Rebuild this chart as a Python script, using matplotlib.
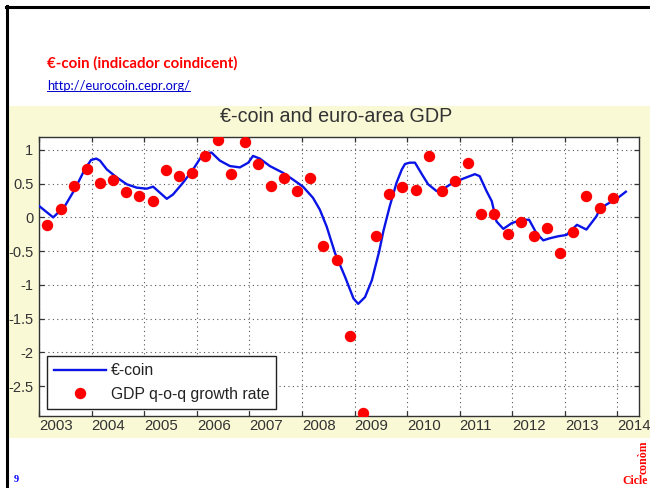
import numpy as np
import matplotlib
matplotlib.use("Agg")
import matplotlib.pyplot as plt
from matplotlib.patches import Rectangle
from matplotlib.lines import Line2D

# ---------------- data ----------------
gdp_years = np.repeat(np.arange(2003, 2014), 4)
gdp_quarter = np.tile([1, 2, 3, 4], 11)
gdp_values = [-0.11, 0.12, 0.46, 0.72,
              0.51, 0.55, 0.38, 0.31,
              0.24, 0.70, 0.62, 0.66,
              0.91, 1.14, 0.64, 1.11,
              0.79, 0.46, 0.58, 0.39,
              0.58, -0.42, -0.63, -1.76,
              -2.90, -0.28, 0.35, 0.45,
              0.41, 0.91, 0.39, 0.54,
              0.80, 0.05, 0.05, -0.24,
              -0.07, -0.28, -0.16, -0.53,
              -0.22, 0.31, 0.14, 0.28]

coin_dates = [2003.00, 2003.27, 2003.49, 2003.68, 2003.87, 2003.99, 2004.09, 2004.16,
              2004.29, 2004.48, 2004.67, 2004.86, 2005.05, 2005.17, 2005.30, 2005.43,
              2005.55, 2005.74, 2005.93, 2006.12, 2006.28, 2006.44, 2006.63, 2006.82,
              2006.98, 2007.07, 2007.20, 2007.39, 2007.64, 2007.83, 2008.02, 2008.21,
              2008.34, 2008.47, 2008.63, 2008.82, 2008.98, 2009.07, 2009.20, 2009.33,
              2009.47, 2009.55, 2009.67, 2009.80, 2009.90, 2009.96, 2010.05, 2010.15,
              2010.28, 2010.40, 2010.56, 2010.66, 2010.88, 2011.07, 2011.29, 2011.38,
              2011.51, 2011.61, 2011.70, 2011.83, 2011.99, 2012.18, 2012.32, 2012.46,
              2012.59, 2012.71, 2012.87, 2013.03, 2013.23, 2013.41, 2013.60, 2013.66,
              2013.79, 2014.01, 2014.16]
coin_values = [0.17, 0.00, 0.165, 0.415, 0.71, 0.85, 0.87, 0.84,
               0.71, 0.59, 0.49, 0.44, 0.425, 0.455, 0.365, 0.275,
               0.34, 0.515, 0.71, 0.94, 0.96, 0.84, 0.76, 0.74,
               0.81, 0.91, 0.87, 0.76, 0.66, 0.56, 0.455, 0.29,
               0.115, -0.135, -0.53, -0.88, -1.20, -1.28, -1.18, -0.93,
               -0.50, -0.20, 0.165, 0.515, 0.71, 0.79, 0.81, 0.81,
               0.64, 0.49, 0.39, 0.41, 0.515, 0.575, 0.64, 0.61,
               0.39, 0.24, -0.06, -0.17, -0.085, -0.035, -0.035, -0.235,
               -0.34, -0.31, -0.28, -0.26, -0.11, -0.18, 0.015, 0.115,
               0.19, 0.29, 0.38]

year_ticks = list(range(2003, 2015))
year_labels = [str(y) for y in year_ticks]
y_ticks = [-2.5, -2, -1.5, -1, -0.5, 0, 0.5, 1]
y_labels = ["-2.5", "-2", "-1.5", "-1", "-0.5", "0", "0.5", "1"]

gdp_x = gdp_years + (gdp_quarter - 1) / 4.0 + 0.16

# ---------------- figure ----------------
W, H = 650, 488
fig = plt.figure(figsize=(6.5, 4.88), dpi=100)
fig.patch.set_facecolor("white")

def fx(px):
    return px / W

def fy(py):
    return 1 - py / H

# yellow background of the embedded chart image
bg = Rectangle((fx(8), fy(438)), fx(642), (438 - 106) / H,
               transform=fig.transFigure, facecolor="#f9f9d6",
               edgecolor="none", zorder=-5)
fig.patches.append(bg)

ax = fig.add_axes([fx(39), fy(416), fx(600), (416 - 137) / H])
ax.set_zorder(2)
ax.set_facecolor("white")

line, = ax.plot(coin_dates, coin_values, color="#0a14e6", lw=1.7, zorder=3,
                label="€-coin")
pts, = ax.plot(gdp_x, gdp_values, linestyle="none", marker="o", ms=7.2,
               color="#ff0000", mec="#ff0000", zorder=4,
               label="GDP q-o-q growth rate")

ax.set_xlim(2003, 2014.41)
ax.set_ylim(-2.94, 1.19)

ax.set_xticks(year_ticks)
ax.set_xticklabels(year_labels, fontsize=10.8, color="#333333",
                   family="Liberation Sans")
for lab in ax.get_xticklabels():
    lab.set_horizontalalignment("left")
ax.set_yticks(y_ticks)
ax.set_yticklabels(y_labels, fontsize=10.5, color="#333333",
                   family="Liberation Sans")

ax.tick_params(axis="both", direction="in", length=3.5, width=0.9,
               color="#333333", top=True, right=True)
ax.tick_params(axis="x", pad=2)
ax.tick_params(axis="y", pad=4)

ax.grid(True, linestyle=(0, (1, 3)), color="#555555", lw=0.8)
ax.set_axisbelow(True)
for sp in ax.spines.values():
    sp.set_color("#333333")
    sp.set_linewidth(1.0)

leg = ax.legend(handles=[line, pts], loc="lower left",
                bbox_to_anchor=(8 / 600, 7 / 279), borderaxespad=0,
                fancybox=False, edgecolor="#222222", framealpha=1,
                prop={"family": "Liberation Sans", "size": 11.3},
                handlelength=3.3, handletextpad=0.3, labelspacing=0.55,
                numpoints=1, borderpad=0.45)
leg.get_frame().set_linewidth(1.0)
for t in leg.get_texts():
    t.set_color("#222222")

# chart title
fig.text(fx(336), fy(117), "€-coin and euro-area GDP", ha="center", va="center",
         fontsize=14.2, color="#333333", family="Liberation Sans")

# slide texts
fig.text(fx(47), fy(63), "€-coin (indicador coindicent)", ha="left", va="center",
         fontsize=10.8, fontweight="bold", color="#ff0000", family="Lato")
link = fig.text(fx(47), fy(86), "http://eurocoin.cepr.org/", ha="left",
                va="center", fontsize=9.3, color="#0000cc", family="Lato")

fig.text(fx(14), fy(480), "9", ha="left", va="center", fontsize=7.5,
         fontweight="bold", color="#0000ff", family="Liberation Serif")
fig.text(fx(648), fy(481), "Cicle", ha="right", va="center", fontsize=8.5,
         fontweight="bold", color="#ff0000", family="Liberation Serif")
fig.text(fx(644), fy(457), "conòm", ha="center", va="center", fontsize=8.5,
         fontweight="bold", color="#ff0000", family="Liberation Serif",
         rotation=90)

# slide border (left and top)
fig.lines.append(Line2D([fx(6.5), fx(6.5)], [fy(6), fy(488)],
                        transform=fig.transFigure, color="black", lw=2.2,
                        zorder=10))
fig.lines.append(Line2D([fx(5.5), fx(650)], [fy(6.5), fy(6.5)],
                        transform=fig.transFigure, color="black", lw=2.2,
                        zorder=10))

# underline for the link
fig.canvas.draw()
bb = link.get_window_extent()
fig.lines.append(Line2D([bb.x0 / W, bb.x1 / W], [(bb.y0 + 1) / H, (bb.y0 + 1) / H],
                        transform=fig.transFigure, color="#0000cc", lw=0.7))

fig.savefig("out.png", dpi=100)
